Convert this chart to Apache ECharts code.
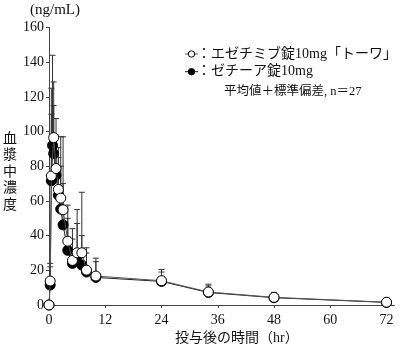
<!DOCTYPE html>
<html><head><meta charset="utf-8">
<script src="https://cdn.jsdelivr.net/npm/echarts@6/dist/echarts.min.js"></script>
<style>html,body{margin:0;padding:0;background:#fff}#c{width:400px;height:345px}</style>
</head><body><div id="c"></div>
<script>
// ---- data ----
const nameTowa = 'エゼチミブ錠10mg「トーワ」';
const nameZetia = 'ゼチーア錠10mg';
const noteText = '平均値＋標準偏差, n＝27';
const timesTowa = [0, 0.25, 0.5, 1, 1.5, 2, 2.5, 3, 4, 5, 6, 7, 8, 10, 24, 34, 48, 72];
const meanTowa  = [0, 13.8, 74.4, 96.5, 78.7, 66.6, 61.6, 54.9, 36.8, 25.7, 30.1, 30.1, 20.1, 16.7, 14.0, 7.5, 4.4, 1.6];
const sdTowa    = [0, 10.2, 50.6, 32.1, 28.8, 24.1, 35.4, 42.1, 20.8, 18.3, 24.9, 34.9, 12.9, 10.3, 6.5, 4.5, 2.9, 0.9];
const timesZetia = [0, 0.25, 0.5, 0.75, 1, 1.5, 2, 2.5, 3, 4, 5, 6, 7, 8, 10, 24, 34, 48, 72];
const meanZetia  = [0, 11.5, 71.6, 92.0, 87.3, 74.8, 63.3, 55.3, 46.2, 31.5, 24.0, 28.2, 23.0, 19.0, 15.9, 13.6, 7.2, 4.2, 1.5];
const sdZetia    = [0, 10.5, 38.4, 52.0, 27.7, 23.2, 21.7, 24.7, 23.8, 18.5, 14.0, 18.8, 17.0, 11.0, 9.1, 5.4, 3.8, 2.8, 0.7];
const xTicks = [0, 12, 24, 36, 48, 60, 72];

const serifFont = '"Liberation Serif", "Noto Sans CJK JP", serif';
const jpFont = '"Liberation Serif", "Noto Sans CJK JP", sans-serif';

function pts(t, m, s) { return t.map((v, i) => [v, m[i], s[i]]); }

function errRender(params, api) {
  const x = api.value(0), m = api.value(1), s = api.value(2);
  if (!s) return null;
  const p0 = api.coord([x, m]);
  const p1 = api.coord([x, m + s]);
  const st = { stroke: '#333', lineWidth: 1 };
  return {
    type: 'group',
    children: [
      { type: 'line', shape: { x1: p0[0], y1: p0[1], x2: p1[0], y2: p1[1] }, style: st },
      { type: 'line', shape: { x1: p1[0] - 3, y1: p1[1], x2: p1[0] + 3, y2: p1[1] }, style: st }
    ]
  };
}

function legendRow(y, fill, lineColor, text) {
  return [
    { type: 'line', shape: { x1: 185, y1: y, x2: 198, y2: y }, style: { stroke: lineColor, lineWidth: 1 } },
    { type: 'circle', shape: { cx: 191.5, cy: y, r: 3.2 }, style: { fill: fill, stroke: '#000', lineWidth: 1 } },
    { type: 'text', x: 197, y: y, style: { text: '：' + text, font: '14px ' + jpFont, fill: '#111', verticalAlign: 'middle' } }
  ];
}

const chart = echarts.init(document.getElementById('c'), null, { renderer: 'canvas' });
chart.setOption({
  animation: false,
  backgroundColor: '#fff',
  grid: { left: 49, right: 5.5, top: 27.5, bottom: 40, containLabel: false },
  xAxis: {
    type: 'value', min: 0, max: 73.7, interval: 12,
    axisLine: { lineStyle: { color: '#444', width: 1 } },
    axisTick: { customValues: xTicks, length: 3, lineStyle: { color: '#444' } },
    axisLabel: { customValues: xTicks, color: '#111', fontFamily: serifFont, fontSize: 14, margin: 8 },
    splitLine: { show: false }
  },
  yAxis: {
    type: 'value', min: 0, max: 160, interval: 20,
    axisLine: { show: true, lineStyle: { color: '#444', width: 1 } },
    axisTick: { show: true, length: 3, lineStyle: { color: '#444' } },
    axisLabel: { color: '#111', fontFamily: serifFont, fontSize: 14, margin: 5 },
    splitLine: { show: false }
  },
  series: [
    { type: 'custom', name: 'errZetia', renderItem: errRender, data: pts(timesZetia, meanZetia, sdZetia), z: 1, clip: false, silent: true },
    { type: 'custom', name: 'errTowa', renderItem: errRender, data: pts(timesTowa, meanTowa, sdTowa), z: 1, clip: false, silent: true },
    {
      type: 'line', name: nameZetia, data: timesZetia.map((t, i) => [t, meanZetia[i]]),
      symbol: 'circle', symbolSize: 10, showAllSymbol: true, clip: false, z: 3,
      lineStyle: { color: '#222', width: 1 },
      itemStyle: { color: '#000', borderColor: '#000', borderWidth: 1 }
    },
    {
      type: 'line', name: nameTowa, data: timesTowa.map((t, i) => [t, meanTowa[i]]),
      symbol: 'circle', symbolSize: 10, showAllSymbol: true, clip: false, z: 4,
      lineStyle: { color: '#555', width: 1 },
      itemStyle: { color: '#fff', borderColor: '#000', borderWidth: 1 }
    }
  ],
  graphic: [
    { type: 'text', x: 30, y: 10, style: { text: '(ng/mL)', font: '15px ' + serifFont, fill: '#111', verticalAlign: 'middle' } },
    { type: 'text', left: 3, top: 131, style: { text: '血\n漿\n中\n濃\n度', font: '14px ' + jpFont, lineHeight: 16.5, fill: '#111' } },
    ...legendRow(54, '#fff', '#555', nameTowa),
    ...legendRow(71.7, '#000', '#222', nameZetia),
    { type: 'text', x: 224, y: 92, style: { text: noteText, font: '12.5px ' + jpFont, fill: '#111', verticalAlign: 'middle' } },
    { type: 'text', left: 175, top: 331, style: { text: '投与後の時間（hr）', font: '14px ' + jpFont, fill: '#111' } }
  ]
});
</script>
</body></html>
